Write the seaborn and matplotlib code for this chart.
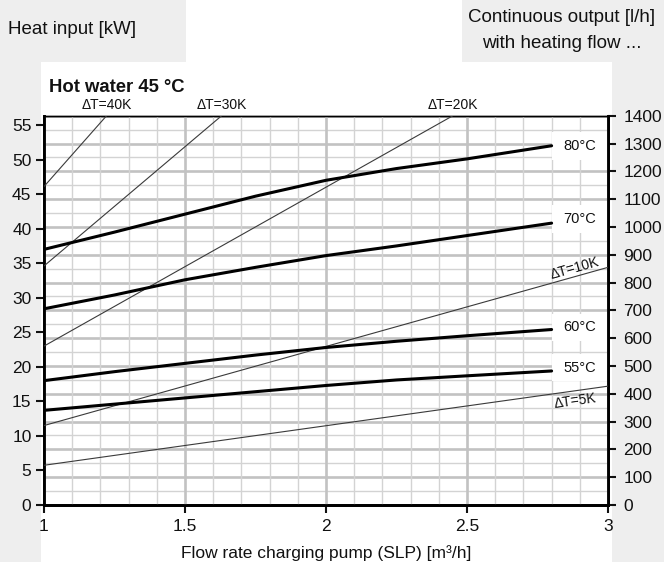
import matplotlib
matplotlib.use("Agg")
import matplotlib.pyplot as plt
from matplotlib.patches import Rectangle
from matplotlib.ticker import MultipleLocator
import numpy as np
import pandas as pd
import seaborn as sns

# ---------------- data ----------------
flow = [1.0, 1.25, 1.5, 1.75, 2.0, 2.25, 2.5, 2.8]
q_80 = [37.0, 39.5, 42.1, 44.7, 47.0, 48.7, 50.1, 52.0]
q_70 = [28.4, 30.4, 32.6, 34.4, 36.1, 37.5, 39.0, 40.8]
q_60 = [18.0, 19.3, 20.5, 21.7, 22.8, 23.7, 24.5, 25.4]
q_55 = [13.7, 14.6, 15.5, 16.4, 17.3, 18.1, 18.7, 19.4]
temp_labels = ["80°C", "70°C", "60°C", "55°C"]
temp_label_kw = [52.0, 41.4, 25.7, 19.9]

dt_labels = ["ΔT=5K", "ΔT=10K", "ΔT=20K", "ΔT=30K", "ΔT=40K"]
dt_x = [[1.0, 3.0], [1.0, 3.0], [1.0, 2.45], [1.0, 1.63], [1.0, 1.222]]
dt_q = [[5.75, 17.2], [11.5, 34.4], [23.0, 56.35], [34.6, 56.35], [46.1, 56.35]]

x_ticks = [1, 1.5, 2, 2.5, 3]
x_tick_labels = ["1", "1.5", "2", "2.5", "3"]
left_ticks = list(range(0, 56, 5))
right_ticks = list(range(0, 1401, 100))
KW_MAX = 56.35
LH_MAX = 1400

# ---------------- style ----------------
sns.set_theme(style="white")
plt.rcParams["font.family"] = ["Liberation Sans", "DejaVu Sans"]
plt.rcParams["text.color"] = "#111111"

W, H = 664, 569
fig = plt.figure(figsize=(W / 100, H / 100), dpi=100)
fig.patch.set_facecolor("white")
GRAY = "#eeeeee"
def frect(x0, y0, x1, y1):
    fig.add_artist(Rectangle((x0 / W, 1 - y1 / H), (x1 - x0) / W, (y1 - y0) / H,
                             transform=fig.transFigure, facecolor=GRAY,
                             edgecolor="none", zorder=-10))
frect(0, 0, 41, 562)
frect(612, 0, 664, 562)
frect(0, 0, 186, 62)
frect(462, 0, 664, 62)

ax = fig.add_axes([44 / W, 1 - 505 / H, 564 / W, 389.3 / H])
ax2 = ax.twinx()
ax.set_zorder(ax2.get_zorder() + 1)
ax.patch.set_visible(False)
ax2.patch.set_facecolor("white")

# curves
curves = pd.DataFrame({
    "flow": flow * 4,
    "kw": q_80 + q_70 + q_60 + q_55,
    "temp": sum([[t] * len(flow) for t in temp_labels], []),
})
sns.lineplot(data=curves, x="flow", y="kw", hue="temp", units="temp", estimator=None,
             palette=["black"] * 4, linewidth=2.2, legend=False, ax=ax, zorder=4)

dt_df = pd.DataFrame({
    "flow": sum(dt_x, []),
    "kw": sum(dt_q, []),
    "dt": sum([[l] * len(xs) for l, xs in zip(dt_labels, dt_x)], []),
})
sns.lineplot(data=dt_df, x="flow", y="kw", hue="dt", units="dt", estimator=None,
             palette=["#3a3a3a"] * 5, linewidth=0.8, legend=False, ax=ax, zorder=3)

ax.set_xlim(1, 3)
ax.set_ylim(0, KW_MAX)
ax2.set_ylim(0, LH_MAX)

# grids
ax.set_xticks(x_ticks)
ax.set_xticklabels(x_tick_labels)
ax.xaxis.set_minor_locator(MultipleLocator(0.1))
ax.grid(which="major", axis="x", color="#c2c2c2", linewidth=1.9, zorder=0)
ax.grid(which="minor", axis="x", color="#d3d3d3", linewidth=1.0, zorder=0)
ax.grid(which="major", axis="y", visible=False)
ax.set_yticks(left_ticks)

ax2.set_yticks(right_ticks)
ax2.yaxis.set_minor_locator(MultipleLocator(50))
ax2.grid(which="major", axis="y", color="#c2c2c2", linewidth=1.9)
ax2.grid(which="minor", axis="y", color="#d3d3d3", linewidth=1.0)
ax2.grid(which="major", axis="x", visible=False)

ax.tick_params(axis="both", which="major", direction="out", length=6, width=1.5,
               labelsize=12.5, colors="#111111", pad=3)
ax.tick_params(axis="x", which="major", pad=4)
ax.tick_params(which="minor", length=0)
ax.tick_params(axis="y", which="both", left=True, right=False)
ax.tick_params(axis="x", which="major", bottom=True)
ax2.tick_params(axis="y", which="major", direction="out", length=6, width=1.5,
                labelsize=12.5, colors="#111111", pad=5, right=True)
ax2.tick_params(which="minor", length=0)
ax.set_xlabel("")
ax.set_ylabel("")
ax2.set_ylabel("")

for a in (ax, ax2):
    for s in ("left", "bottom", "right"):
        a.spines[s].set_linewidth(2.0)
        a.spines[s].set_color("black")
    a.spines["top"].set_linewidth(1.0)
    a.spines["top"].set_color("black")

# temperature labels with white boxes
for lab, yk in zip(temp_labels, temp_label_kw):
    ax.add_patch(Rectangle((2.8, yk - 2.0), 0.195, 4.0, facecolor="white",
                           edgecolor="none", zorder=2))
    ax.text(2.9, yk, lab, ha="center", va="center", fontsize=10.5, zorder=5)

# ΔT labels
for lab, xs, qs in zip(dt_labels, dt_x, dt_q):
    if qs[-1] >= KW_MAX - 0.01:
        ax.annotate(lab, xy=(xs[-1], KW_MAX), xytext=(0, 3), textcoords="offset points",
                    ha="center", va="bottom", fontsize=10, annotation_clip=False)
# inclined labels on the right
p0 = ax.transData.transform((dt_x[1][0], dt_q[1][0]))
p1 = ax.transData.transform((dt_x[1][1], dt_q[1][1]))
ang10 = np.degrees(np.arctan2(p1[1] - p0[1], p1[0] - p0[0]))
y10 = np.interp(2.89, dt_x[1], dt_q[1])
ax.text(2.89, y10 + 0.2, dt_labels[1], rotation=ang10, rotation_mode="anchor",
        ha="center", va="bottom", fontsize=10, zorder=5)
p0 = ax.transData.transform((dt_x[0][0], dt_q[0][0]))
p1 = ax.transData.transform((dt_x[0][1], dt_q[0][1]))
ang5 = np.degrees(np.arctan2(p1[1] - p0[1], p1[0] - p0[0]))
y5 = np.interp(2.88, dt_x[0], dt_q[0])
ax.text(2.88, y5 - 0.4, dt_labels[0], rotation=ang5, rotation_mode="anchor",
        ha="center", va="top", fontsize=10, zorder=5)

# texts
fig.text(8 / W, 1 - 29 / H, "Heat input [kW]", ha="left", va="center", fontsize=13.5)
fig.text(562 / W, 1 - 17 / H, "Continuous output [l/h]", ha="center", va="center", fontsize=13.5)
fig.text(562 / W, 1 - 43 / H, "with heating flow ...", ha="center", va="center", fontsize=13.5)
fig.text(49 / W, 1 - 87 / H, "Hot water 45 °C", ha="left", va="center", fontsize=13.3,
         fontweight="bold")
fig.text(326 / W, 1 - 553 / H, "Flow rate charging pump (SLP) [m³/h]", ha="center",
         va="center", fontsize=12.5)

fig.savefig("out.png", dpi=100)
